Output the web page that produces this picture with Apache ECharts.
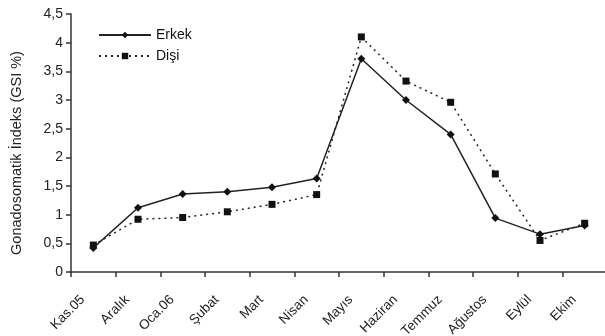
<!DOCTYPE html>
<html><head><meta charset="utf-8">
<script src="https://cdn.jsdelivr.net/npm/echarts@6/dist/echarts.min.js"></script>
<style>html,body{margin:0;padding:0;background:#fff}#c{width:605px;height:336px}</style>
</head><body><div id="c"></div>
<script>
const categories = ['Kas.05','Aralık','Oca.06','Şubat','Mart','Nisan','Mayıs','Haziran','Temmuz','Ağustos','Eylül','Ekim'];
const erkek = [0.42,1.12,1.36,1.40,1.48,1.63,3.72,3.00,2.40,0.94,0.66,0.81];
const disi = [0.47,0.92,0.95,1.05,1.18,1.35,4.10,3.33,2.96,1.71,0.55,0.85];
const yTicks = {min:0, max:4.5, interval:0.5};
const font = 'Liberation Sans, Arial, sans-serif';
const chart = echarts.init(document.getElementById('c'), null, {renderer:'canvas'});
chart.setOption({
  animation:false,
  backgroundColor:'#fff',
  textStyle:{fontFamily:font},
  grid:{left:71, right:-2, top:14, bottom:64, containLabel:false, outerBoundsMode:'none'},
  legend:{
    orient:'vertical', left:93, top:23, itemWidth:52, itemHeight:8, itemGap:7,
    textStyle:{fontFamily:font, fontSize:14, color:'#111'},
    data:['Erkek','Dişi']
  },
  xAxis:{
    type:'category', data:categories, boundaryGap:true,
    axisLine:{lineStyle:{color:'#333', width:1.5}},
    axisTick:{show:true, alignWithLabel:false, length:5, lineStyle:{color:'#333', width:1.5}},
    axisLabel:{rotate:45, interval:0, fontFamily:font, fontSize:13.5, color:'#222', margin:15, padding:[0,15,0,0]}
  },
  yAxis:{
    type:'value', min:yTicks.min, max:yTicks.max, interval:yTicks.interval,
    name:'Gonadosomatik İndeks (GSI %)', nameLocation:'middle', nameGap:47, nameRotate:90,
    nameTextStyle:{fontFamily:font, fontSize:14.5, color:'#222', padding:[0,20,0,0]},
    splitLine:{show:false},
    axisLine:{show:true, lineStyle:{color:'#333', width:1.5}},
    axisTick:{show:true, length:5, lineStyle:{color:'#333', width:1.5}},
    axisLabel:{fontFamily:font, fontSize:14, color:'#222', margin:8, formatter:v=>String(v).replace('.',',')}
  },
  series:[
    {name:'Erkek', type:'line', data:erkek, symbol:'diamond', symbolSize:8,
     lineStyle:{color:'#222', width:1.5}, itemStyle:{color:'#111'}},
    {name:'Dişi', type:'line', data:disi, symbol:'rect', symbolSize:7,
     lineStyle:{color:'#222', width:1.5, type:[2,4]}, itemStyle:{color:'#111'}}
  ]
});
</script></body></html>
